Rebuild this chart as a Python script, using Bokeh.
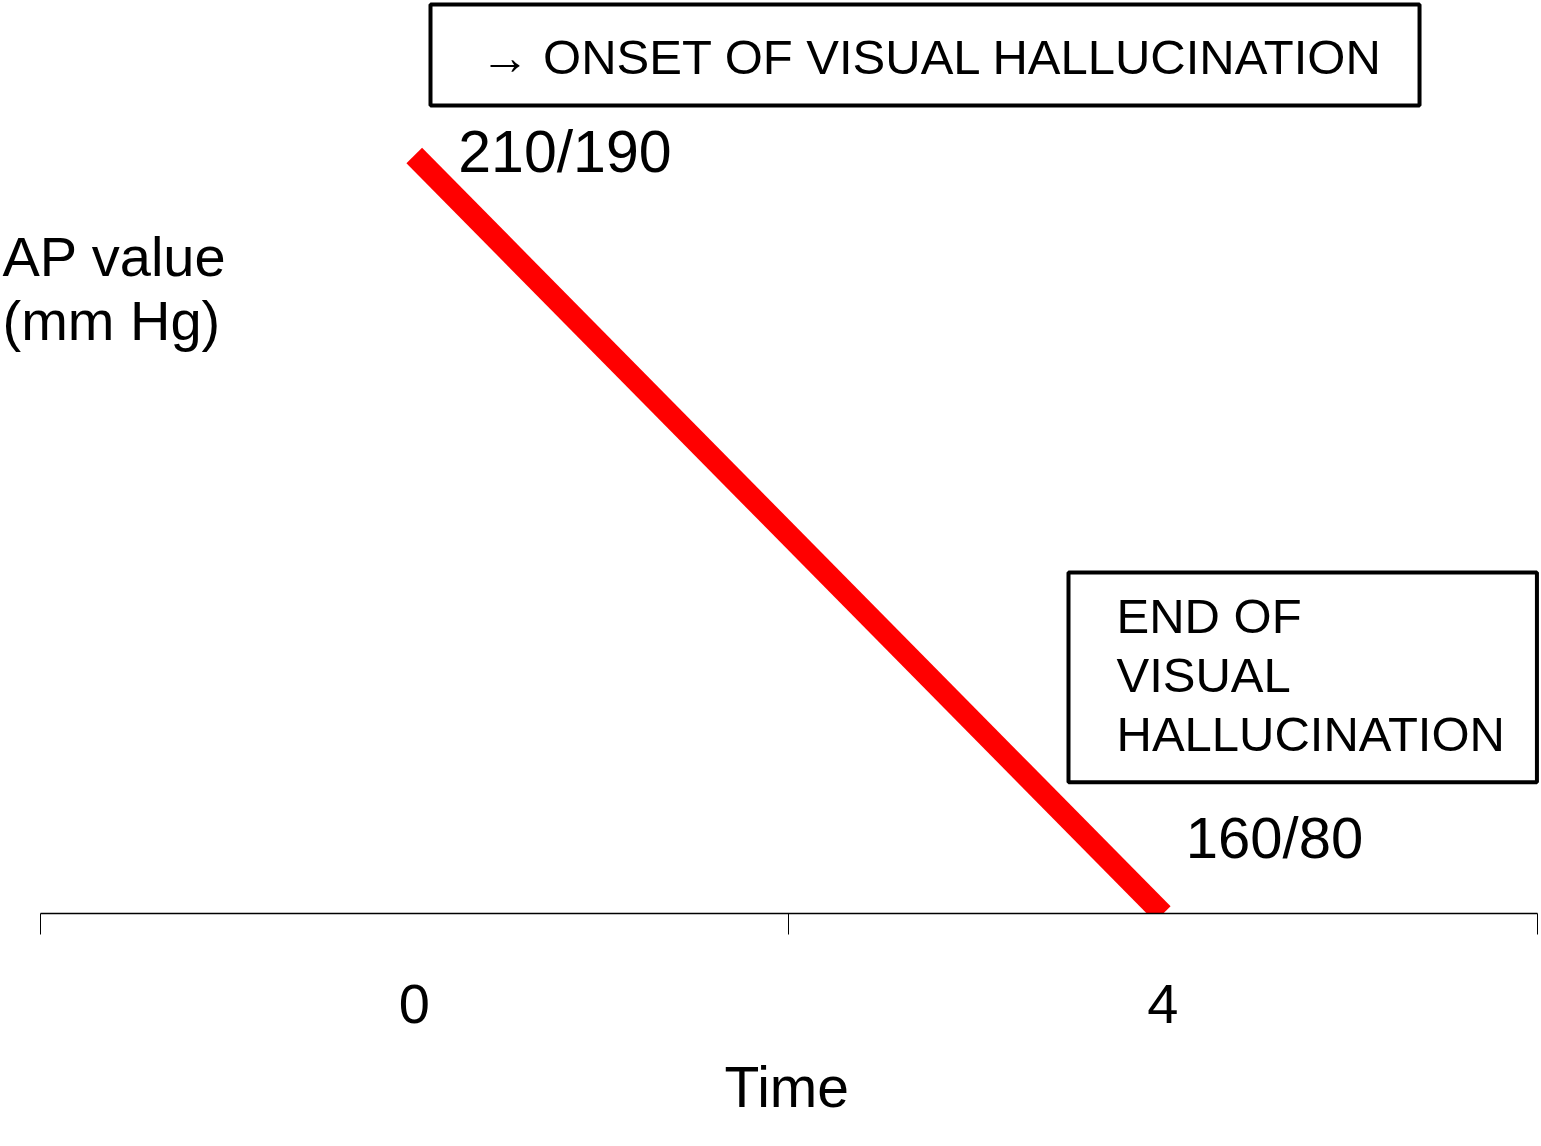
from bokeh.plotting import figure
from bokeh.models import Range1d, LinearAxis, FixedTicker, Label, Title
from bokeh.embed import file_html
from bokeh.resources import INLINE

# ---- data ----
time_labels = ["0", "4"]
systolic = [210, 160]
diastolic = [190, 80]
ap_labels = [f"{s}/{d}" for s, d in zip(systolic, diastolic)]
onset_text = "\u2192 ONSET OF VISUAL HALLUCINATION"
end_text = "END OF\nVISUAL\nHALLUCINATION"
y_title = "AP value\n(mm Hg)"
x_title = "Time"

n = len(time_labels)
time_pos = [i + 0.5 for i in range(n)]

FONT = "Liberation Sans"
W, H = 1541, 1146
AXIS_Y = 913                 # pixel row of the time axis (bottom of frame)
XL, XR = 39.5, 1536.5        # pixel columns of axis start / end
ppu = (XR - XL) / n
X0, X1 = -XL / ppu, n + (W - XR) / ppu
Y0, Y1 = 160.033, 220.218

p = figure(width=W, height=H, output_backend="svg", toolbar_location=None,
           x_range=Range1d(X0, X1), y_range=Range1d(Y0, Y1),
           x_axis_type=None, y_axis_type=None,
           min_border_left=0, min_border_right=0, min_border_top=0,
           min_border_bottom=H - AXIS_Y)
p.outline_line_color = None
p.background_fill_color = "white"
p.border_fill_color = "white"


def px(xp, yp):
    """pixel -> data coordinates (only used to place annotation boxes)"""
    return X0 + xp / W * (X1 - X0), Y1 - yp / AXIS_Y * (Y1 - Y0)


ax = LinearAxis(
    bounds=(0, n),
    ticker=FixedTicker(ticks=time_pos, minor_ticks=list(range(n + 1))),
    major_label_overrides={t: l for t, l in zip(time_pos, time_labels)},
    major_tick_out=0, major_tick_in=0, minor_tick_out=21, minor_tick_in=0,
    minor_tick_line_color="black", minor_tick_line_width=1,
    axis_line_color="black", axis_line_width=1.5,
    major_label_standoff=50,
    major_label_text_font=FONT, major_label_text_font_size="56px", major_label_text_color="black",
)
p.add_layout(ax, "below")

# x title centred under the axis (~128 px wide text)
axis_centre = (XL + XR) / 2
p.add_layout(Title(text=x_title, align="left", offset=axis_centre - 64,
                   text_font=FONT, text_font_size="57px", text_font_style="normal",
                   text_color="black", standoff=55, vertical_align="bottom"), "below")

p.line(x=time_pos, y=systolic, line_color="#ff0000", line_width=22, line_cap="butt")

# value labels near points
p.add_layout(Label(x=time_pos[0], y=systolic[0], x_offset=44, y_offset=4, text=ap_labels[0],
                   text_font=FONT, text_font_size="59px", text_color="black",
                   text_align="left", text_baseline="alphabetic"))
p.add_layout(Label(x=time_pos[1], y=systolic[1], x_offset=23, y_offset=77, text=ap_labels[1],
                   text_font=FONT, text_font_size="58px", text_color="black",
                   text_align="left", text_baseline="alphabetic"))

# y title
xt, yt = px(2, 224)
p.add_layout(Label(x=xt, y=yt, text=y_title, text_font=FONT, text_font_size="56px",
                   text_color="black", text_align="left", text_baseline="top",
                   text_line_height=1.03))

# onset box (anchor = top-left of box)
xo, yo = px(430, 4)
p.add_layout(Label(x=xo, y=yo, text=onset_text, text_font=FONT,
                   text_font_size="49px",
                   text_color="black", text_align="left", text_baseline="top",
                   border_line_color="black", border_line_width=4, background_fill_color="white",
                   padding=dict(left=50, right=36, top=25, bottom=22)))

# end box
xe, ye = px(1068, 572)
p.add_layout(Label(x=xe, y=ye, text=end_text, text_font=FONT, text_font_size="49px",
                   text_color="black", text_align="left", text_baseline="top",
                   text_line_height=1.10,
                   border_line_color="black", border_line_width=4, background_fill_color="white",
                   padding=dict(left=48, right=32, top=16, bottom=21)))

open("out.html", "w").write(file_html(p, INLINE))
